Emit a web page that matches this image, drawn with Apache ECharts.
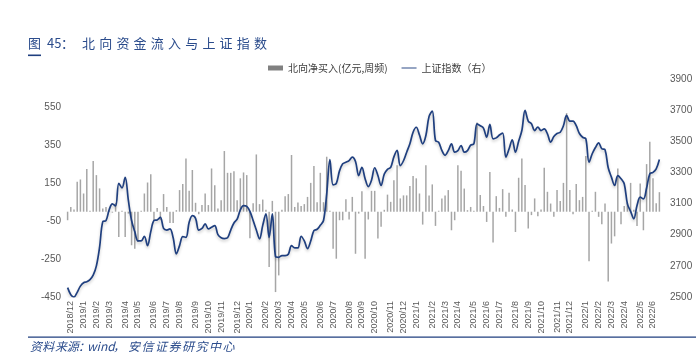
<!DOCTYPE html>
<html><head><meta charset="utf-8">
<script src="https://cdn.jsdelivr.net/npm/echarts@6/dist/echarts.min.js"></script>
<style>html,body{margin:0;padding:0;background:#fff}#c{width:696px;height:359px}</style>
</head><body><div id="c"></div>
<script>
// weekly categories (Fridays) from 2018-11-30 to 2022-06-17
var startDate = '2018-11-30';
var weekCount = 186;
var leftTicks = [-450, -250, -50, 150, 350, 550];
var rightTicks = [2500, 2700, 2900, 3100, 3300, 3500, 3700, 3900];
var seriesNames = ['北向净买入(亿元,周频)', '上证指数（右）'];

var northFlow = [-45,25,12,158,170,96,225,5,267,193,
123,17,25,5,-5,47,-133,5,-133,-10,
-177,-195,-160,5,96,154,197,-45,20,-45,
93,25,-59,-59,8,114,146,281,110,220,
47,-13,35,96,35,228,139,17,60,320,
205,205,214,60,176,207,193,-140,44,302,
40,64,10,-292,57,-424,-336,10,82,93,
299,25,48,30,40,78,152,241,50,205,
50,290,5,-195,-248,-45,-45,66,-41,78,
-222,-10,108,-248,-41,110,110,-142,-80,10,
90,52,166,245,70,86,86,135,188,176,
96,-68,245,86,144,-75,5,70,86,114,
-98,-45,245,216,122,8,25,5,470,88,
30,-54,210,-163,82,20,119,-27,100,12,
-107,179,281,141,-89,-18,70,-24,12,232,
105,43,-27,114,57,152,520,114,-13,146,
61,78,294,-262,5,105,-27,-66,43,-368,
-168,-130,228,-66,30,47,152,10,-75,149,
-98,251,369,176,45,103];

var shIndex = [2560,2515,2500,2530,2570,2592,2598,2612,2640,2700,
2820,2984,2990,3060,3098,3085,3230,3200,3269,3120,
2991,2920,2860,2860,2890,2830,2920,2991,2995,3012,
2940,2930,2937,2880,2777,2830,2888,2883,2980,3023,
3005,2930,2940,2969,2937,2948,2959,2900,2880,2875,
2880,2930,2975,3000,3060,3087,3082,3050,2991,2930,
2873,2960,3034,2883,3034,2760,2755,2766,2766,2775,
2830,2815,2815,2890,2860,2811,2860,2926,2935,2960,
2991,3162,3383,3220,3230,3310,3355,3365,3376,3398,
3370,3280,3333,3260,3209,3250,3330,3280,3216,3290,
3320,3333,3400,3441,3344,3375,3430,3484,3558,3590,
3540,3484,3537,3660,3694,3505,3494,3441,3410,3440,
3484,3430,3440,3473,3430,3440,3475,3484,3612,3600,
3585,3526,3608,3516,3522,3540,3552,3398,3450,3510,
3430,3500,3569,3698,3630,3612,3569,3591,3569,3580,
3548,3494,3530,3550,3558,3600,3666,3630,3630,3600,
3550,3526,3516,3366,3420,3460,3490,3452,3445,3330,
3270,3216,3280,3260,3227,3098,3050,3002,3087,3141,
3130,3200,3291,3300,3323,3383];

var weeks = [];
(function(){
  var d = new Date(startDate + 'T00:00:00Z');
  for (var i = 0; i < weekCount; i++) {
    var t = new Date(d.getTime() + i * 7 * 86400000);
    weeks.push(t.getUTCFullYear() + '/' + (t.getUTCMonth() + 1) + '/' + t.getUTCDate());
  }
})();
function ym(s){ var p = s.split('/'); return p[0] + '/' + p[1]; }

var titleColor = '#2B4C8C';
var navy = '#1F3F7F';
var graphics = [];
var titleParts = [['图',28],['45',47],['：',61]];
var titleChars = '北向资金流入与上证指数';
titleParts.forEach(function(p){
  graphics.push({type:'text', left:p[1], top:37, style:{text:p[0], fill:titleColor, font:'13px "Noto Sans CJK SC", sans-serif'}});
});
for (var k = 0; k < titleChars.length; k++) {
  graphics.push({type:'text', left:82 + k*17.2, top:37, style:{text:titleChars[k], fill:titleColor, font:'13px "Noto Sans CJK SC", sans-serif'}});
}
graphics.push({type:'rect', shape:{x:28, y:54.5, width:13, height:1.6}, style:{fill:navy}});
graphics.push({type:'rect', shape:{x:28, y:336.5, width:668, height:1.2}, style:{fill:navy}});
var srcParts = [['资',30],['料',42.3],['来',55],['源',66.7],['：',78],['wind',87],['，',113],['安',128],['信',141.5],['证',155],['券',168.5],['研',182],['究',195.5],['中',209],['心',222.5]];
srcParts.forEach(function(p){
  graphics.push({type:'text', left:p[1], top:340, style:{text:p[0], fill:titleColor, font:'italic 12px "Noto Sans CJK SC", sans-serif'}});
});

var chart = echarts.init(document.getElementById('c'), null, {renderer:'canvas'});
chart.setOption({
  animation:false,
  backgroundColor:'#fff',
  graphic: graphics,
  legend:{
    left:263, top:58, itemWidth:15, itemHeight:5, itemGap:14,
    textStyle:{fontSize:10, color:'#404040', fontFamily:'"Noto Sans CJK SC", sans-serif'},
    data:[
      {name:seriesNames[0], icon:'rect', itemStyle:{color:'#808080'}},
      {name:seriesNames[1], icon:'path://M0,0 L40,0 L40,2.5 L0,2.5 Z'}
    ]
  },
  grid:{left:66, right:35, top:79, bottom:62},
  xAxis:{
    type:'category', data:weeks, boundaryGap:true,
    axisLine:{show:false}, axisTick:{show:false}, splitLine:{show:false},
    axisLabel:{
      rotate:90, fontSize:9, color:'#595959', margin:4, fontFamily:'"Liberation Sans", sans-serif',
      interval:function(i, v){ return i > 0 && ym(weeks[i]) !== ym(weeks[i-1]); },
      formatter:function(v){ return ym(v); }
    }
  },
  yAxis:[
    {type:'value', min:-450, max:700, interval:200,
     axisLine:{show:false}, axisTick:{show:false}, splitLine:{show:false},
     axisLabel:{fontSize:10, color:'#595959', margin:5, fontFamily:'"Liberation Sans", sans-serif',
       formatter:function(v){ return leftTicks.indexOf(v) >= 0 ? String(v) : ''; }}},
    {type:'value', min:2500, max:3900, interval:200, position:'right',
     axisLine:{show:false}, axisTick:{show:false}, splitLine:{show:false},
     axisLabel:{fontSize:10, color:'#595959', margin:9, fontFamily:'"Liberation Sans", sans-serif',
       formatter:function(v){ return rightTicks.indexOf(v) >= 0 ? String(v) : ''; }}}
  ],
  series:[
    {name:seriesNames[0], type:'bar', yAxisIndex:0, data:northFlow, barWidth:1.5,
     itemStyle:{color:'#A6A6A6'}},
    {name:seriesNames[1], type:'line', yAxisIndex:1, data:shIndex, smooth:0.35,
     showSymbol:false, symbol:'none', z:5,
     lineStyle:{color:navy, width:1.7, shadowColor:'rgba(0,0,0,0.22)', shadowBlur:3, shadowOffsetY:2},
     itemStyle:{color:navy}}
  ]
});
</script>
</body></html>
